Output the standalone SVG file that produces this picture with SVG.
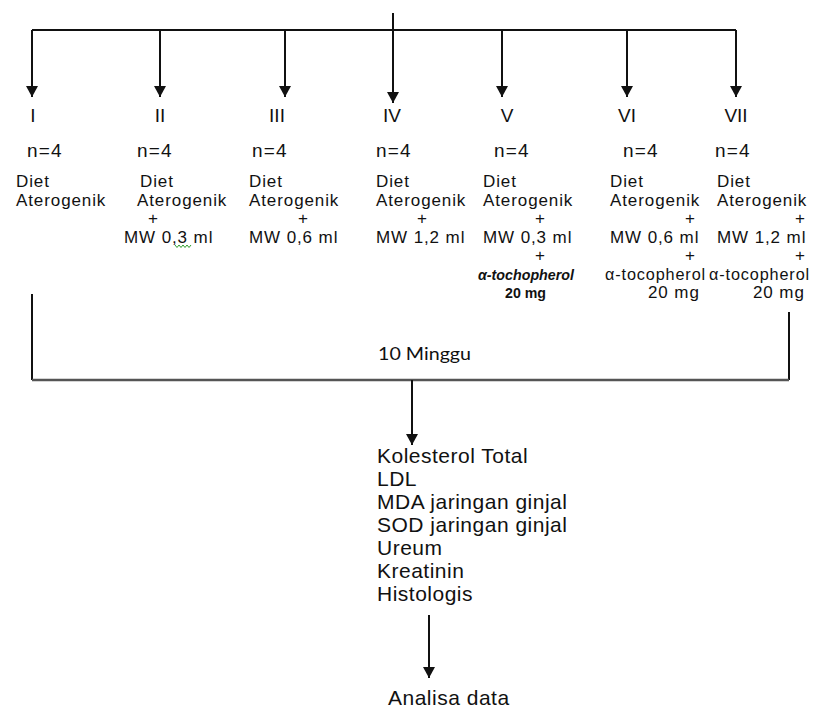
<svg xmlns="http://www.w3.org/2000/svg" width="825" height="708" viewBox="0 0 825 708">
<style>
.t{font-family:"Liberation Sans",Arial,sans-serif;font-size:17px;letter-spacing:0.9px;fill:#111}
.r{font-family:"Liberation Sans",Arial,sans-serif;font-size:19px;fill:#111;text-anchor:middle}
.n{font-family:"Liberation Sans",Arial,sans-serif;font-size:19px;letter-spacing:1.2px;fill:#111}
.p{font-family:"Liberation Sans",Arial,sans-serif;font-size:17px;fill:#111;text-anchor:middle}
.c{font-family:Lato,"Open Sans",sans-serif;font-size:18px;fill:#111}
.l{font-family:"Liberation Sans",Arial,sans-serif;font-size:21px;letter-spacing:0.5px;fill:#111}
.ln{stroke:#111;stroke-width:2;fill:none}
</style>
<defs>
<marker id="ah" markerUnits="userSpaceOnUse" markerWidth="11" markerHeight="12" refX="11" refY="6" orient="auto" viewBox="0 0 11 12">
<path d="M0,0 L11,6 L0,12 Z" fill="#111"/>
</marker>
</defs>
<g id="connectors">
<line class="ln" x1="32" y1="30" x2="736" y2="30"/>
<line class="ln" x1="393" y1="13" x2="393" y2="30"/>
<path class="ln" d="M32,30 V97" marker-end="url(#ah)"/>
<path class="ln" d="M160,30 V97" marker-end="url(#ah)"/>
<path class="ln" d="M285,30 V97" marker-end="url(#ah)"/>
<path class="ln" d="M393,30 V103" marker-end="url(#ah)"/>
<path class="ln" d="M502,30 V97" marker-end="url(#ah)"/>
<path class="ln" d="M627,30 V97" marker-end="url(#ah)"/>
<path class="ln" d="M736,30 V97" marker-end="url(#ah)"/>
<line class="ln" x1="32" y1="294" x2="32" y2="380"/>
<line class="ln" x1="789" y1="312" x2="789" y2="380"/>
<line x1="32" y1="380" x2="789" y2="380" stroke="#555" stroke-width="2.5"/>
<path class="ln" d="M412,380 V445" marker-end="url(#ah)"/>
<path class="ln" d="M429,615 V678" marker-end="url(#ah)"/>
</g>
<g id="group-I">
<text class="r" x="33" y="122">I</text>
<text class="n" x="27" y="157">n=4</text>
<text class="t" x="16" y="187">Diet</text>
<text class="t" x="16" y="205.5">Aterogenik</text>
</g>
<g id="group-II">
<text class="r" x="160" y="122">II</text>
<text class="n" x="137" y="157">n=4</text>
<text class="t" x="140" y="187">Diet</text>
<text class="t" x="137" y="205.5">Aterogenik</text>
<text class="p" x="153" y="224">+</text>
<text class="t" x="124" y="242.5">MW 0,3 ml</text>
<polyline points="175,245 177,247.5 179,245 181,247.5 183,245 185,247.5 187,245 189,247.5 191,245" fill="none" stroke="#2e9e2e" stroke-width="1"/>
</g>
<g id="group-III">
<text class="r" x="277" y="122">III</text>
<text class="n" x="252" y="157">n=4</text>
<text class="t" x="249" y="187">Diet</text>
<text class="t" x="249" y="205.5">Aterogenik</text>
<text class="p" x="303" y="224">+</text>
<text class="t" x="249" y="242.5">MW 0,6 ml</text>
</g>
<g id="group-IV">
<text class="r" x="392" y="122">IV</text>
<text class="n" x="376" y="157">n=4</text>
<text class="t" x="376" y="187">Diet</text>
<text class="t" x="376" y="205.5">Aterogenik</text>
<text class="p" x="422" y="224">+</text>
<text class="t" x="376" y="242.5">MW 1,2 ml</text>
</g>
<g id="group-V">
<text class="r" x="507" y="122">V</text>
<text class="n" x="494" y="157">n=4</text>
<text class="t" x="483" y="187">Diet</text>
<text class="t" x="483" y="205.5">Aterogenik</text>
<text class="p" x="540" y="224">+</text>
<text class="t" x="483" y="242.5">MW 0,3 ml</text>
<text class="p" x="540" y="261">+</text>
<text x="478" y="279.5" font-family="'Liberation Sans',Arial,sans-serif" font-size="14" font-weight="bold" font-style="italic" fill="#111" textLength="96" lengthAdjust="spacingAndGlyphs">α-tochopherol</text>
<text x="505" y="298" font-family="'Liberation Sans',Arial,sans-serif" font-size="14" font-weight="bold" fill="#111" textLength="41" lengthAdjust="spacingAndGlyphs">20 mg</text>
</g>
<g id="group-VI">
<text class="r" x="627" y="122">VI</text>
<text class="n" x="623" y="157">n=4</text>
<text class="t" x="610" y="187">Diet</text>
<text class="t" x="610" y="205.5">Aterogenik</text>
<text class="p" x="690" y="224">+</text>
<text class="t" x="610" y="242.5">MW 0,6 ml</text>
<text class="p" x="690" y="261">+</text>
<text class="t" x="605" y="279.5" textLength="101" lengthAdjust="spacingAndGlyphs">α-tocopherol</text>
<text class="t" x="648" y="298">20 mg</text>
</g>
<g id="group-VII">
<text class="r" x="736" y="122">VII</text>
<text class="n" x="715" y="157">n=4</text>
<text class="t" x="717" y="187">Diet</text>
<text class="t" x="717" y="205.5">Aterogenik</text>
<text class="p" x="800" y="224">+</text>
<text class="t" x="717" y="242.5">MW 1,2 ml</text>
<text class="p" x="800" y="261">+</text>
<text class="t" x="709" y="279.5" textLength="101" lengthAdjust="spacingAndGlyphs">α-tocopherol</text>
<text class="t" x="753" y="298">20 mg</text>
</g>
<g id="duration">
<text class="c" x="378" y="360" textLength="93" lengthAdjust="spacingAndGlyphs">10 Minggu</text>
</g>
<g id="measurements">
<text class="l" x="377" y="463">Kolesterol Total</text>
<text class="l" x="377" y="486">LDL</text>
<text class="l" x="377" y="509">MDA jaringan ginjal</text>
<text class="l" x="377" y="532">SOD jaringan ginjal</text>
<text class="l" x="377" y="555">Ureum</text>
<text class="l" x="377" y="578">Kreatinin</text>
<text class="l" x="377" y="601">Histologis</text>
</g>
<g id="analysis">
<text class="l" x="388" y="705">Analisa data</text>
</g>
</svg>
